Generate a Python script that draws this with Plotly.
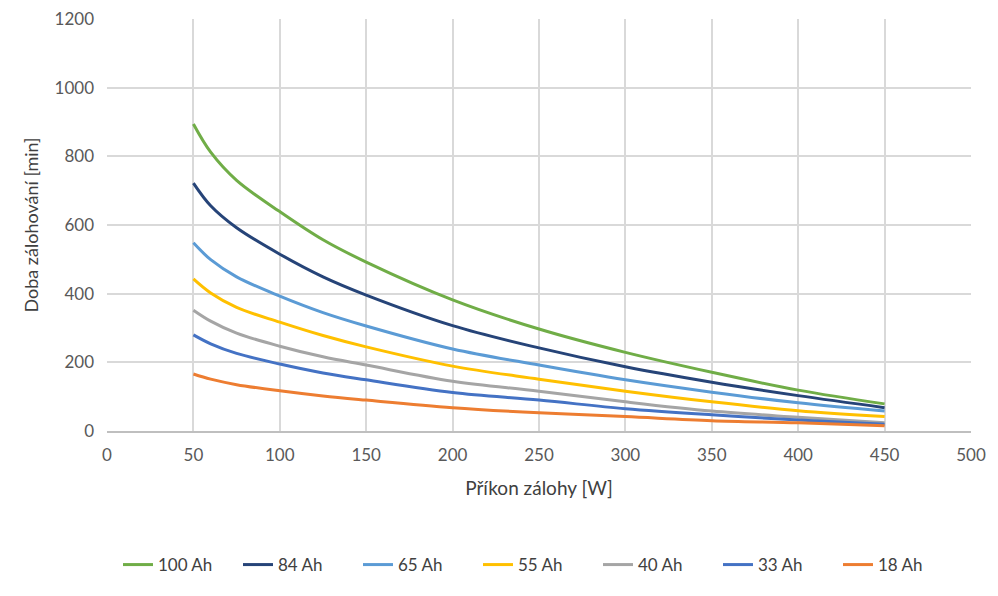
import plotly.graph_objects as go

power_w = [50, 60, 75, 100, 125, 150, 200, 250, 300, 350, 400, 450]

series_names = ["100 Ah", "84 Ah", "65 Ah", "55 Ah", "40 Ah", "33 Ah", "18 Ah"]
ah100 = [894, 812, 730, 639, 557, 492, 382, 297, 229, 171, 119, 79]
ah84 = [722, 656, 592, 515, 449, 396, 307, 242, 187, 142, 103, 68]
ah65 = [548, 499, 449, 393, 345, 306, 239, 192, 149, 113, 82, 58]
ah55 = [443, 402, 360, 317, 278, 245, 189, 151, 116, 85, 59, 42]
ah40 = [352, 320, 285, 247, 216, 192, 145, 116, 85, 58, 40, 24]
ah33 = [280, 254, 226, 195, 169, 149, 112, 90, 65, 47, 32, 20]
ah18 = [166, 151, 135, 117, 102, 90, 68, 53, 42, 30, 24, 15]

values = [ah100, ah84, ah65, ah55, ah40, ah33, ah18]
colors = ["#70ad47", "#264478", "#5b9bd5", "#ffc000", "#a5a5a5", "#4472c4", "#ed7d31"]

FONT = "Lato, Open Sans, sans-serif"

fig = go.Figure()
for name, ys, c in zip(series_names, values, colors):
    fig.add_trace(go.Scatter(
        x=power_w, y=ys, name=name, mode="lines",
        line=dict(color=c, width=3, shape="spline", smoothing=1.0),
    ))

fig.update_layout(
    width=998, height=596,
    margin=dict(l=99, r=35, t=11, b=173, autoexpand=False),
    paper_bgcolor="white", plot_bgcolor="white",
    font=dict(family=FONT, size=17, color="#404040"),
    showlegend=True,
    legend=dict(orientation="h", xref="container", yref="container",
                x=0.1102, xanchor="left", y=0.0654, yanchor="middle",
                font=dict(family=FONT, size=17, color="#404040"),
                entrywidth=75, entrywidthmode="pixels", tracegroupgap=0),
    xaxis=dict(range=[0, 500], dtick=50, tick0=0, showgrid=True, gridcolor="#d9d9d9",
               gridwidth=1.5, zeroline=False, showline=True, linecolor="#bfbfbf", linewidth=1.5,
               ticks="", ticklen=0, automargin=False, ticklabelstandoff=8,
               ticklabeloverflow="allow",
               tickfont=dict(size=17, color="#595959"),
               title=dict(text="Příkon zálohy [W]", font=dict(size=19, color="#404040"), standoff=18)),
    yaxis=dict(range=[0, 1200], dtick=200, tick0=0, showgrid=True, gridcolor="#d9d9d9",
               gridwidth=1.5, zeroline=False, showline=False, ticks="", automargin=False,
               ticklabelstandoff=12, ticklabeloverflow="allow",
               tickfont=dict(size=17, color="#595959"),
               title=dict(text="Doba zálohování [min]", font=dict(size=18, color="#404040"), standoff=11)),
)

fig.write_html("out.html")
